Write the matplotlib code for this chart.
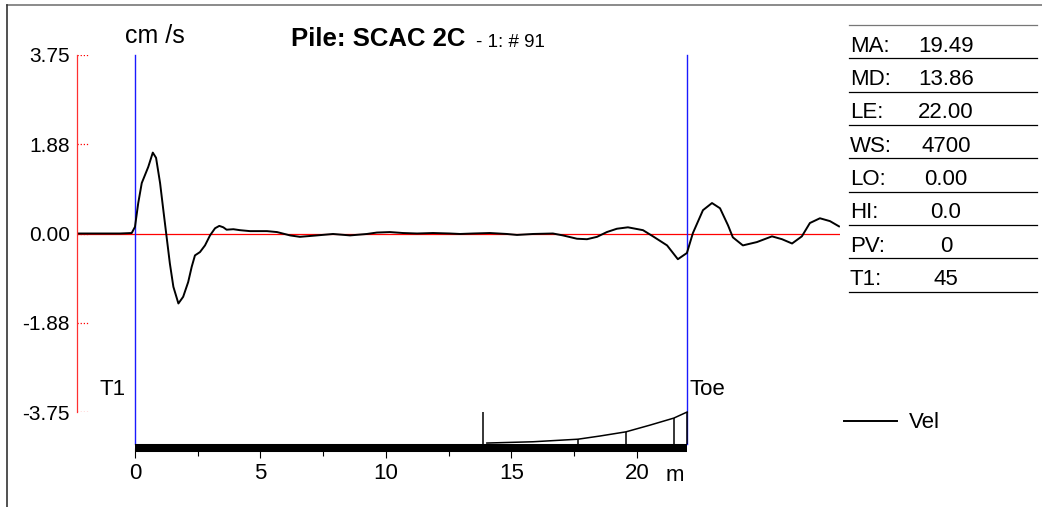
import numpy as np
import matplotlib
matplotlib.use("Agg")
import matplotlib.pyplot as plt
from matplotlib.lines import Line2D

plt.rcParams['font.family'] = ['Liberation Sans', 'DejaVu Sans']

# velocity trace (m, cm/s)
vel_x = [-2.31, -0.60, -0.13, 0.00, 0.13, 0.27, 0.40, 0.53, 0.71, 0.84, 1.00,
         1.13, 1.26, 1.39, 1.53, 1.73, 1.92, 2.12, 2.26, 2.39, 2.59, 2.79,
         2.99, 3.19, 3.36, 3.52, 3.65, 3.92, 4.18, 4.58, 5.26, 5.66, 6.18,
         6.57, 7.25, 7.89, 8.57, 9.24, 9.64, 10.16, 10.68, 11.24, 11.87,
         12.55, 12.95, 13.47, 14.14, 14.82, 15.22, 15.86, 16.65, 17.05,
         17.61, 18.01, 18.41, 18.80, 19.20, 19.64, 20.24, 20.64, 21.20,
         21.63, 21.99, 22.23, 22.63, 22.99, 23.31, 23.63, 23.82, 24.22,
         24.78, 25.38, 25.78, 26.18, 26.57, 26.89, 27.29, 27.69, 28.05]
vel_y = [0.00, 0.00, 0.01, 0.14, 0.64, 1.06, 1.23, 1.40, 1.70, 1.59, 1.06,
         0.49, -0.07, -0.63, -1.12, -1.47, -1.33, -1.02, -0.70, -0.46, -0.39,
         -0.25, -0.04, 0.11, 0.16, 0.13, 0.08, 0.09, 0.07, 0.05, 0.05, 0.03,
         -0.04, -0.07, -0.04, -0.01, -0.04, -0.01, 0.02, 0.03, 0.01, 0.00,
         0.01, 0.00, -0.01, 0.00, 0.01, -0.01, -0.03, -0.01, 0.00, -0.04,
         -0.11, -0.12, -0.07, 0.03, 0.10, 0.13, 0.07, -0.06, -0.25, -0.54,
         -0.41, 0.01, 0.49, 0.64, 0.53, 0.17, -0.08, -0.25, -0.18, -0.06,
         -0.12, -0.21, -0.06, 0.22, 0.32, 0.26, 0.15]

yticks = [3.75, 1.88, 0.00, -1.88, -3.75]
xticks = [0, 5, 10, 15, 20]
xminor = [2.5, 7.5, 12.5, 17.5]

pile_len = 22.0   # LE
md = 13.86        # MD

# profile sketch at the bottom (relative height)
prof_x = [14.02, 15.86, 17.65, 18.53, 19.56, 20.52, 21.47, 22.0]
prof_h = [0.03, 0.07, 0.15, 0.25, 0.38, 0.59, 0.81, 1.0]
seg_x = [17.65, 19.56, 21.47, 22.0]
seg_h = [0.15, 0.38, 0.81, 1.0]

table_keys = ['MA:', 'MD:', 'LE:', 'WS:', 'LO:', 'HI:', 'PV:', 'T1:']
table_vals = ['19.49', '13.86', '22.00', '4700', '0.00', '0.0', '0', '45']

W, H = 1042, 507
fig = plt.figure(figsize=(W / 100, H / 100), dpi=100)

def fx(p):
    return p / W

def fy(p):
    return 1 - p / H

xlim = (-2.31, 28.09)

# main axes
ax = fig.add_axes([fx(77), fy(412), fx(840 - 77), (412 - 55) / H])
ax.set_xlim(*xlim)
ax.set_ylim(-3.75, 3.75)
for s in ['top', 'right', 'bottom']:
    ax.spines[s].set_visible(False)
ax.spines['left'].set_color('#ff3030')
ax.spines['left'].set_linewidth(0.9)
ax.set_xticks([])
ax.set_yticks(yticks)
ax.set_yticklabels(['%.2f' % v for v in yticks], fontsize=15)
ax.tick_params(axis='y', length=0, pad=5)
ax.hlines(yticks, xlim[0], xlim[0] + 0.45, colors='red', linestyles=(0, (1, 1.5)), lw=0.9)
ax.axhline(0, color='red', lw=0.9)
for xv in [0, pile_len]:
    ax.axvline(xv, ymin=-0.0896, ymax=1, color='#1a1aff', lw=1.0, clip_on=False)
ax.plot(vel_x, vel_y, color='black', lw=1.4, label='Vel')

# bottom scale bar
ax2 = fig.add_axes([fx(77), fy(448), fx(840 - 77), 43 / H])
ax2.set_xlim(*xlim)
ax2.set_ylim(-0.125, 1.219)
ax2.patch.set_visible(False)
for s in ['top', 'right', 'left']:
    ax2.spines[s].set_visible(False)
ax2.spines['bottom'].set_bounds(0, pile_len)
ax2.spines['bottom'].set_linewidth(5.8)
ax2.spines['bottom'].set_capstyle('butt')
ax2.set_yticks([])
ax2.set_xticks(xticks)
ax2.set_xticks(xminor, minor=True)
ax2.set_xticklabels([str(v) for v in xticks], fontsize=16)
ax2.tick_params(axis='x', which='major', direction='out', length=7.5, width=0.8, pad=3)
ax2.tick_params(axis='x', which='minor', direction='out', length=5.5, width=0.8)
ax2.plot(prof_x, prof_h, color='black', lw=1.1)
ax2.vlines(seg_x, 0, seg_h, colors='black', lw=1.1)
ax2.vlines([md], 0, 1.0, colors='black', lw=1.1)

fig.text(fx(675), fy(481), 'm', fontsize=16, ha='center', va='baseline')

# labels
fig.text(fx(155), fy(43), 'cm /s', fontsize=18, ha='center', va='baseline')
fig.text(fx(126), fy(395), 'T1', fontsize=16, ha='right', va='baseline')
fig.text(fx(689), fy(395), 'Toe', fontsize=16, ha='left', va='baseline')

t1 = fig.text(fx(291), fy(46), 'Pile: SCAC 2C', fontsize=18.5, fontweight='bold',
              ha='left', va='baseline')
ax.annotate('- 1: # 91', xy=(1, 0), xycoords=t1, xytext=(8, 0),
            textcoords='offset points', fontsize=13.5, ha='left', va='bottom')

# parameter table
row_lines = [25 + i * 33.33 for i in range(9)]
for i, yl in enumerate(row_lines):
    fig.add_artist(Line2D([fx(849), fx(1037)], [fy(yl), fy(yl)],
                          color='#777777' if i == 0 else 'black', lw=0.9))
for i, (k, v) in enumerate(zip(table_keys, table_vals)):
    yb = row_lines[i + 1] - 6.5
    fig.text(fx(850), fy(yb), k, fontsize=16, ha='left', va='baseline')
    fig.text(fx(946), fy(yb), v, fontsize=16, ha='center', va='baseline')

# legend
fig.legend(handles=[Line2D([], [], color='black', lw=1.4)], labels=['Vel'],
           loc='center left', bbox_to_anchor=(fx(844), fy(423)), frameon=False,
           fontsize=16, handlelength=2.4, handletextpad=0.5, borderpad=0,
           borderaxespad=0)

# outer frame
fig.add_artist(Line2D([fx(7), 1], [fy(5), fy(5)], color='#777777', lw=1.2))
fig.add_artist(Line2D([fx(7), fx(7)], [fy(5), 0], color='#333333', lw=1.2))

fig.savefig('out.png', dpi=100)
